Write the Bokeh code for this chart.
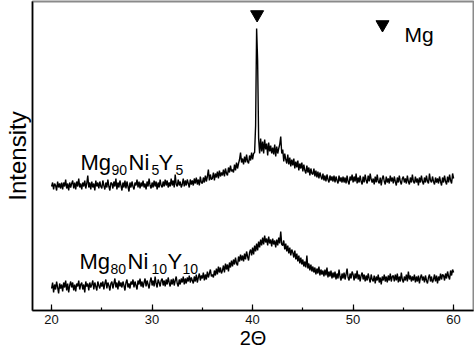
import numpy as np
from bokeh.plotting import figure
from bokeh.models import Range1d, Label, SingleIntervalTicker, FixedTicker
from bokeh.embed import file_html
from bokeh.resources import INLINE

# ---------------- data ----------------
two_theta = [round(20 + i * 0.1, 1) for i in range(401)]

# Mg90Ni5Y5 (upper trace), arbitrary intensity units
mg90_intensity = [
    124,128,121,127,125,120,129,123,127,122,
    128,121,128,124,131,122,127,120,128,123,
    127,130,122,128,121,129,124,132,123,127,
    121,128,124,130,122,127,135,123,128,121,
    129,123,127,120,130,124,128,122,129,124,
    122,130,125,121,128,123,131,124,120,128,
    127,122,129,124,132,121,128,123,130,125,
    120,128,123,130,122,129,124,119,128,123,
    129,124,121,128,125,131,123,129,122,128,
    124,130,123,127,121,129,124,132,125,122,
    128,123,130,124,129,121,128,123,131,125,
    123,129,124,131,125,130,123,128,124,132,
    125,130,123,136,126,124,131,125,129,123,
    126,132,124,130,125,131,127,123,131,126,
    130,125,132,127,133,126,131,125,134,128,
    127,133,128,135,129,134,141,130,136,131,
    132,138,130,137,133,139,132,140,134,138,
    135,141,134,142,137,135,143,138,145,139,
    141,138,146,140,148,142,147,151,158,148,
    152,146,154,148,156,149,147,155,150,158,
    151,157,158,185,282,250,172,157,172,159,
    169,157,171,161,167,155,168,159,165,157,
    163,156,166,154,164,157,162,166,174,157,
    161,149,157,151,147,156,146,153,144,151,
    145,152,142,149,143,150,140,147,142,148,
    139,146,140,137,145,138,143,135,142,137,
    136,142,134,140,133,139,132,138,134,131,
    137,130,135,129,136,131,128,135,130,134,
    129,135,128,134,130,127,135,129,133,128,
    134,128,133,127,135,129,126,134,130,136,
    128,134,129,137,127,133,128,135,129,126,
    134,128,136,130,127,135,129,137,131,128,
    132,126,134,128,136,129,127,133,125,132,
    135,129,126,134,128,132,127,135,129,133,
    127,134,129,125,133,128,135,129,126,132,
    134,128,132,127,135,129,126,133,128,136,
    129,127,134,128,132,125,133,128,135,129,
    126,133,128,135,129,127,137,130,128,134,
    129,126,133,128,132,127,134,129,125,133,
    128,135,129,126,134,128,136,130,127,137,
    132,
]

# Mg80Ni10Y10 (lower trace)
mg80_intensity = [
    22,28,18,26,21,29,23,17,27,22,
    26,19,28,23,30,20,27,18,25,29,
    23,28,20,26,19,27,24,30,21,26,
    28,21,26,18,29,24,27,20,28,23,
    26,30,21,28,24,20,29,25,22,28,
    24,29,21,27,31,22,28,25,20,27,
    29,22,27,32,23,28,21,30,24,28,
    23,29,25,20,28,31,23,27,22,29,
    26,31,23,29,25,21,30,26,32,24,
    29,23,28,32,24,30,26,22,29,33,
    25,30,24,34,27,23,31,28,24,30,
    32,25,30,24,31,26,33,28,24,31,
    26,32,25,30,34,27,24,31,26,32,
    28,34,26,32,27,33,29,35,28,33,
    30,27,34,29,36,28,33,37,30,35,
    32,38,30,36,31,39,33,37,41,34,
    36,33,40,35,42,36,44,38,43,37,
    40,45,38,47,41,46,39,48,43,50,
    44,51,46,53,47,45,54,49,56,50,
    55,49,57,51,59,54,50,58,61,55,
    63,56,65,59,67,60,69,63,71,65,
    73,66,75,68,72,65,74,67,71,64,
    72,66,70,63,71,65,73,67,79,66,
    65,70,61,67,59,65,57,63,55,61,
    58,53,60,51,57,49,55,47,53,46,
    51,44,49,43,55,42,47,40,46,39,
    44,38,43,36,42,37,44,35,41,36,
    40,34,41,35,43,33,39,34,40,32,
    38,33,39,31,37,32,41,34,30,37,
    32,38,31,36,42,33,30,37,32,39,
    36,30,37,32,40,31,36,29,35,38,
    31,36,29,35,30,37,32,28,36,31,
    29,35,27,34,30,36,28,33,26,34,
    30,36,29,34,28,35,30,37,29,34,
    35,29,36,30,37,28,34,29,38,31,
    28,34,30,36,29,39,31,35,29,34,
    30,36,28,34,29,35,27,33,36,30,
    34,28,35,30,27,33,36,29,34,28,
    31,36,29,35,27,34,30,37,31,36,
    35,30,37,32,39,34,31,40,35,41,
    38,
]

mg_peak_positions = [40.45]
label_upper = [("Mg", "main"), ("90", "sub"), ("Ni", "main"), ("5", "sub"), ("Y", "main"), ("5", "sub")]
label_lower = [("Mg", "main"), ("80", "sub"), ("Ni", "main"), ("10", "sub"), ("Y", "main"), ("10", "sub")]
legend_text = "Mg"
x_title = "2\u0398"
y_title = "Intensity"

# ---------------- figure ----------------
X0, X1 = 18.1, 61.98
PXD = 10.05  # pixels per degree
FONT = "Liberation Sans"

p = figure(width=474, height=351, output_backend="svg", toolbar_location=None,
           x_range=Range1d(X0, X1), y_range=Range1d(0, 309),
           min_border_left=32, min_border_right=1, min_border_top=1, min_border_bottom=41)
p.background_fill_color = "white"
p.border_fill_color = "white"
p.outline_line_color = "#8a8a8a"
p.outline_line_width = 2
p.xgrid.visible = False
p.ygrid.visible = False

p.line(two_theta, mg90_intensity, line_color="black", line_width=1.4)
p.line(two_theta, mg80_intensity, line_color="black", line_width=1.4)

# x axis
xa = p.xaxis[0]
xa.ticker = SingleIntervalTicker(interval=10, num_minor_ticks=2)
xa.axis_line_color = "black"
xa.axis_line_width = 1.5
xa.major_tick_in = 6
xa.major_tick_out = 0
xa.minor_tick_in = 3
xa.minor_tick_out = 0
xa.major_tick_line_width = 1.2
xa.minor_tick_line_width = 1.2
xa.major_label_standoff = 4
xa.major_label_text_font = FONT
xa.major_label_text_font_size = "13px"
xa.major_label_text_color = "#111111"
xa.axis_label = x_title
xa.axis_label_text_font = FONT
xa.axis_label_text_font_size = "20px"
xa.axis_label_text_font_style = "normal"
xa.axis_label_text_color = "black"
xa.axis_label_standoff = 0

# y axis: no ticks
ya = p.yaxis[0]
ya.ticker = FixedTicker(ticks=[])
ya.axis_line_color = "black"
ya.axis_line_width = 1.5
ya.major_tick_line_color = None
ya.minor_tick_line_color = None
ya.major_label_text_font_size = "0px"
ya.major_label_standoff = 0
ya.axis_label = y_title
ya.axis_label_text_font = FONT
ya.axis_label_text_font_size = "24px"
ya.axis_label_text_font_style = "normal"
ya.axis_label_text_color = "black"
ya.axis_label_standoff = 2


def px2x(px):
    return X0 + (px - 32) / PXD


def py2y(py):
    return 310 - py


# sample labels with subscripts
def compound_label(parts, xs_px, base_py, sub_py):
    for (txt, kind), xp in zip(parts, xs_px):
        p.add_layout(Label(x=px2x(xp), y=py2y(base_py if kind == "main" else sub_py),
                           text=txt, text_font=FONT,
                           text_font_size="22px" if kind == "main" else "14px",
                           text_align="left", text_baseline="alphabetic", text_color="black"))


compound_label(label_upper, [80, 111, 128, 151, 158, 175], 161.5, 169.5)
compound_label(label_lower, [79, 110, 127, 151, 167, 182], 260.5, 268.5)

# Mg peak marker and legend
p.scatter(mg_peak_positions, [py2y(14)] * len(mg_peak_positions), marker="inverted_triangle",
          size=13, fill_color="black", line_color="black")
p.scatter([px2x(382)], [py2y(24)], marker="inverted_triangle", size=13,
          fill_color="black", line_color="black")
p.add_layout(Label(x=px2x(404), y=py2y(33.5), text=legend_text, text_font=FONT,
                   text_font_size="21px", text_align="left", text_baseline="alphabetic",
                   text_color="black"))

open("out.html", "w").write(file_html(p, INLINE))
